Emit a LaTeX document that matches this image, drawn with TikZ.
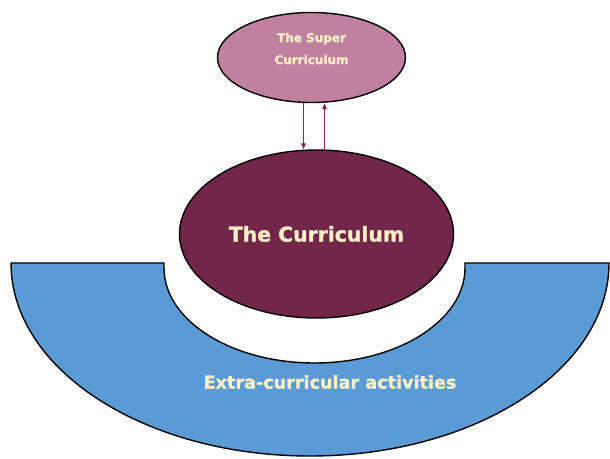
\documentclass[tikz,border=0pt]{standalone}
\usepackage{fontspec}
\setsansfont{DejaVu Sans}[BoldFeatures={FakeBold=1.2}]
\usetikzlibrary{shapes.geometric,arrows.meta}
\definecolor{supercol}{HTML}{C080A0}
\definecolor{currcol}{HTML}{722649}
\definecolor{extracol}{HTML}{5B9BD5}
\definecolor{textcol}{HTML}{FFF0C8}
\definecolor{arrowcol}{HTML}{7A2850}
\begin{document}
\begin{tikzpicture}[x=1pt, y=1pt,
  blob/.style={ellipse, draw=black, line width=1.4pt, inner sep=0pt, text=textcol, font=\sffamily\bfseries, align=center},
  link/.style={-{Triangle[length=6pt,width=4.5pt]}, arrowcol, line width=1.5pt}]
\useasboundingbox (0,0) rectangle (610,458);
\fill[white] (0,0) rectangle (610,458);
% outer band
\draw[fill=extracol, line width=1.4pt] (11,195) -- (164,195) -- (164,190)
  arc[start angle=180, end angle=360, x radius=150.5, y radius=95] -- (465,195) -- (609,195)
  arc[start angle=0, end angle=-180, x radius=299, y radius=193] -- cycle;
\node[blob, fill=currcol, minimum width=274pt, minimum height=168pt, font=\sffamily\bfseries\fontsize{20.4}{24}\selectfont] (curr) at (316.5,224) {The Curriculum};
\node[blob, fill=supercol, minimum width=188pt, minimum height=90pt, text depth=18pt, font=\sffamily\bfseries\fontsize{12}{22}\selectfont] (super) at (311.5,400.5) {The Super\\Curriculum};
\node[text=textcol, font=\sffamily\bfseries\fontsize{17.6}{21}\selectfont] (extra) at (330,76) {Extra-curricular activities};
\draw[link] ([xshift=-8pt]super.south) -- ([xshift=-8pt]super.south |- curr.north);
\draw[link] ([xshift=8pt]curr.north) -- ([xshift=8pt]curr.north |- super.south);
\end{tikzpicture}
\end{document}
